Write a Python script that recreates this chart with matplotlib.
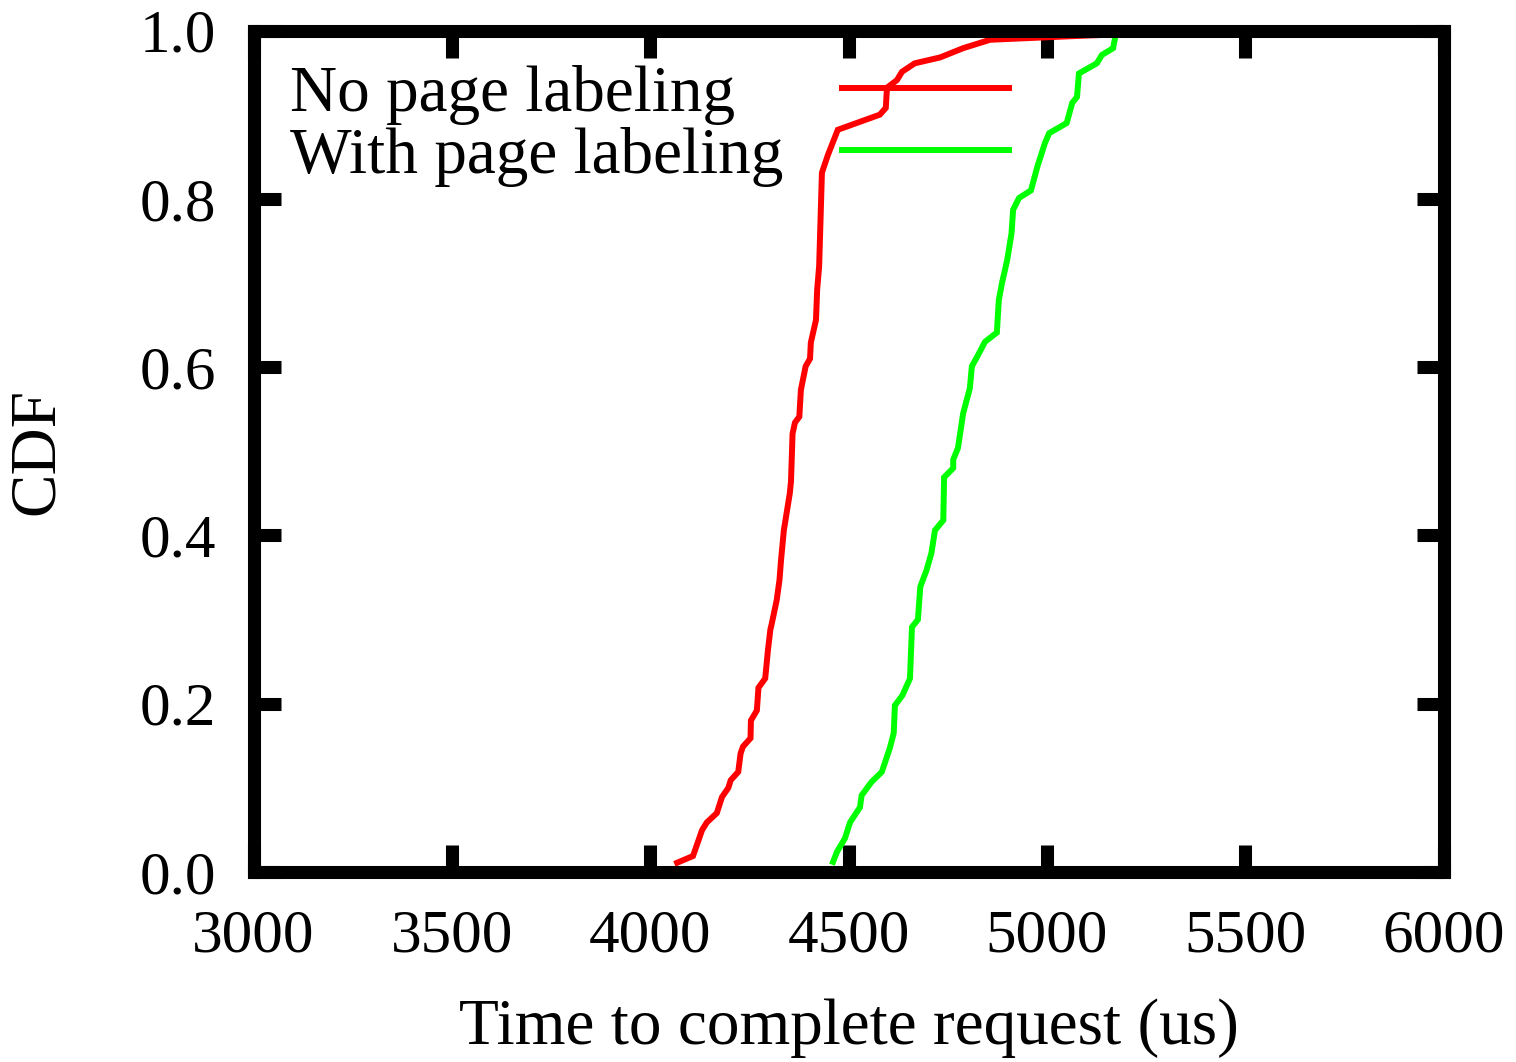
import matplotlib
matplotlib.use("Agg")
import matplotlib.pyplot as plt
from matplotlib.ticker import FixedLocator, FormatStrFormatter

# ---- data ----
no_label_x = [4068, 4108, 4131, 4143, 4168, 4181, 4197, 4203, 4222, 4228, 4234, 4253,
              4254, 4269, 4273, 4290, 4297, 4303, 4306, 4319, 4326, 4330, 4337, 4352,
              4355, 4359, 4365, 4376, 4380, 4392, 4403, 4405, 4418, 4421, 4426, 4433,
              4448, 4458, 4473, 4579, 4594, 4597, 4622, 4635, 4667, 4731, 4789, 4857,
              5100, 5450]
no_label_y = [0.011, 0.019, 0.050, 0.059, 0.070, 0.089, 0.100, 0.109, 0.119, 0.141, 0.149, 0.159,
              0.180, 0.192, 0.219, 0.230, 0.264, 0.288, 0.294, 0.323, 0.347, 0.371, 0.406, 0.450,
              0.464, 0.521, 0.534, 0.541, 0.573, 0.601, 0.610, 0.629, 0.656, 0.692, 0.720, 0.831,
              0.852, 0.864, 0.882, 0.900, 0.908, 0.932, 0.941, 0.951, 0.961, 0.968, 0.979, 0.989,
              0.994, 1.000]

with_label_x = [4461, 4471, 4491, 4504, 4529, 4533, 4558, 4584, 4604, 4614, 4617, 4636,
                4655, 4660, 4675, 4681, 4697, 4709, 4718, 4739, 4741, 4764, 4764, 4776,
                4789, 4806, 4811, 4824, 4844, 4874, 4879, 4887, 4900, 4911, 4915, 4930,
                4960, 4976, 4995, 5006, 5050, 5064, 5076, 5081, 5126, 5139, 5167, 5172,
                5175]
with_label_y = [0.012, 0.024, 0.040, 0.059, 0.077, 0.091, 0.107, 0.119, 0.147, 0.165, 0.198, 0.210,
                0.230, 0.291, 0.300, 0.339, 0.359, 0.379, 0.406, 0.418, 0.469, 0.480, 0.490, 0.504,
                0.545, 0.575, 0.601, 0.612, 0.630, 0.641, 0.680, 0.700, 0.727, 0.759, 0.787, 0.801,
                0.810, 0.838, 0.866, 0.878, 0.890, 0.914, 0.921, 0.949, 0.961, 0.971, 0.979, 0.991,
                1.000]

series_labels = ["No page labeling", "With page labeling"]
series_colors = ['#ff0000', '#00ff00']
x_ticks = [3000, 3500, 4000, 4500, 5000, 5500, 6000]
y_ticks = [0.0, 0.2, 0.4, 0.6, 0.8, 1.0]
x_label = "Time to complete request (us)"
y_label = "CDF"

plt.rcParams['font.family'] = ['Liberation Serif', 'DejaVu Serif']
FS = 44
FS_LABEL = 47

fig = plt.figure(figsize=(15.16, 10.62), dpi=100)
ax = fig.add_axes([253.5/1516, 1 - 872/1062, (1443.5-253.5)/1516, (872-30.5)/1062])

series = [(no_label_x, no_label_y), (with_label_x, with_label_y)]
for (xs, ys), lab, col in zip(series, series_labels, series_colors):
    ax.plot(xs, ys, color=col, lw=4.3, label=lab,
            solid_joinstyle='miter', clip_on=False, zorder=2)

ax.set_xlim(3000, 6000)
ax.set_ylim(0, 1)
ax.xaxis.set_major_locator(FixedLocator(x_ticks))
ax.yaxis.set_major_locator(FixedLocator(y_ticks))
ax.yaxis.set_major_formatter(FormatStrFormatter('%.1f'))
ax.xaxis.set_major_formatter(FormatStrFormatter('%d'))

for s in ax.spines.values():
    s.set_linewidth(9.4)
    s.set_capstyle('projecting')
    s.set_zorder(3)

ax.tick_params(which='major', direction='in', length=19.5, width=9.4,
               top=True, right=True, labelsize=FS, color='black')
ax.tick_params(axis='x', pad=27)
ax.tick_params(axis='y', pad=27)

ax.set_xlabel(x_label, fontsize=FS_LABEL, labelpad=24)
ax.set_ylabel(y_label, fontsize=FS_LABEL, labelpad=52)

# gnuplot-style key: left-justified text, sample line to the right
key_text_x = 0.0307
key_line_x = (0.492, 0.637)
key_rows_y = [0.9317, 0.858]
for lab, col, yk in zip(series_labels, series_colors, key_rows_y):
    ax.text(key_text_x, yk, lab, transform=ax.transAxes, fontsize=FS_LABEL,
            ha='left', va='center_baseline')
    ax.plot(key_line_x, [yk, yk], transform=ax.transAxes, color=col, lw=4.3,
            solid_capstyle='butt')

fig.savefig("out.png", dpi=100)
